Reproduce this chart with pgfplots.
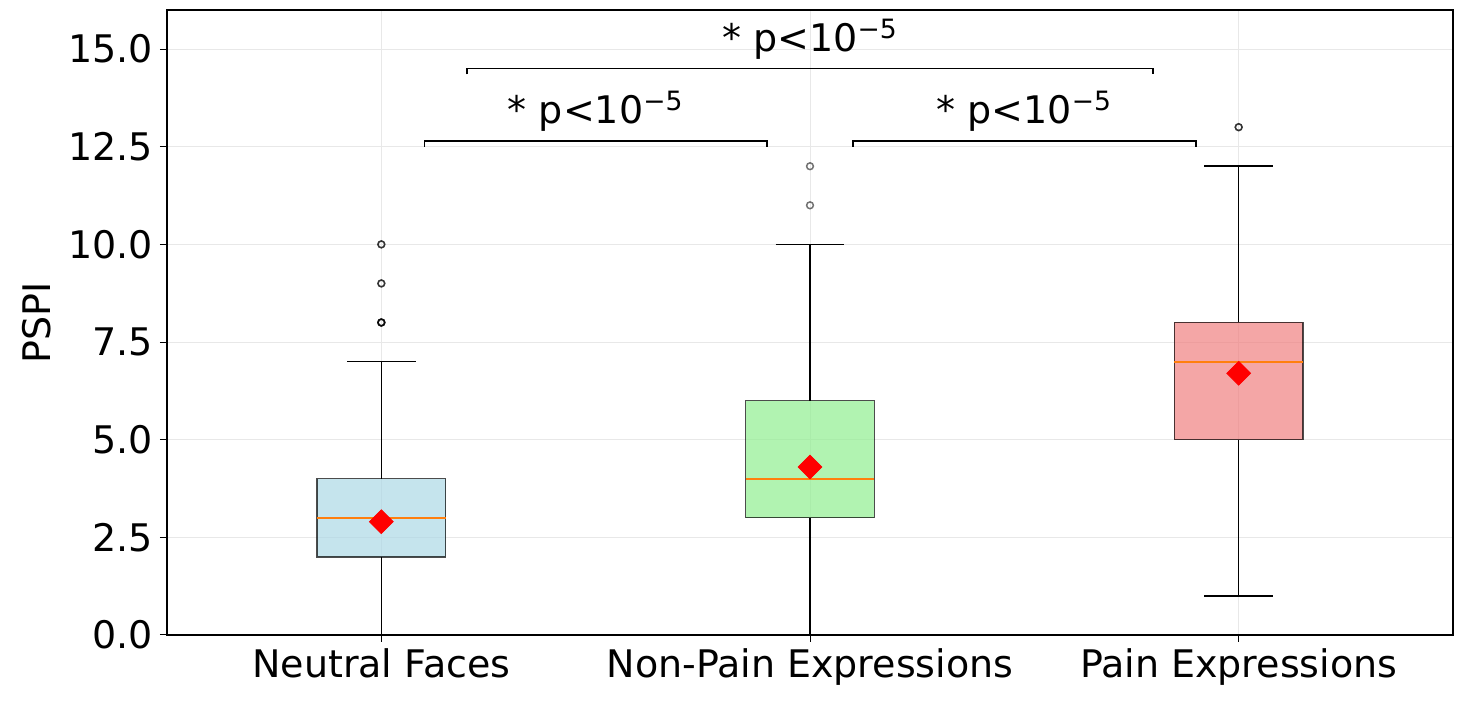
\documentclass[border=0pt]{standalone}
\usepackage{pgfplots}
\pgfplotsset{compat=1.18}
\usepgfplotslibrary{statistics}
\usepackage{fontspec}
\setmainfont{DejaVu Sans}
\definecolor{lblue}{RGB}{173,216,230}
\definecolor{lgreen}{RGB}{144,238,144}
\definecolor{lcoral}{RGB}{240,128,128}
\definecolor{mplorange}{RGB}{255,127,14}
\definecolor{gridc}{RGB}{232,232,232}
\newcommand{\pval}{* p<10\textsuperscript{\char"2212 5}}
\begin{document}
\begin{tikzpicture}
\begin{axis}[name=ax, scale only axis, width=643pt, height=312.5pt,
  xmin=0.5, xmax=3.5, ymin=0, ymax=16,
  xtick={1,2,3},
  xticklabels={Neutral Faces, Non-Pain Expressions, Pain Expressions},
  ytick={0,2.5,5,7.5,10,12.5,15},
  yticklabel style={/pgf/number format/.cd, fixed, fixed zerofill, precision=1},
  /pgf/number format/assume math mode=true,
  font=\fontsize{19}{23}\selectfont,
  tick label style={font=\fontsize{19}{23}\selectfont},
  ylabel={PSPI},
  ylabel style={at={(axis description cs:-0.101,0.5)}, anchor=center},
  grid=major, major grid style={gridc, line width=0.5pt},
  tick align=outside, major tick length=3.5pt, tick pos=left,
  axis line style={line width=0.6pt},
  every tick/.style={black, line width=0.5pt},
  boxplot/draw direction=y,
  boxplot/every whisker/.style={black, line width=0.75pt},
  boxplot/every median/.style={draw=none},
]
\addplot[boxplot prepared={lower whisker=0, lower quartile=2, median=3, upper quartile=4, upper whisker=7, draw position=1, box extend=0.3, whisker extend=0.16},
  boxplot/every box/.style={draw=black, draw opacity=0.7, fill=lblue, fill opacity=0.7, line width=0.65pt}] coordinates {};
\addplot[boxplot prepared={lower whisker=0, lower quartile=3, median=4, upper quartile=6, upper whisker=10, draw position=2, box extend=0.3, whisker extend=0.16},
  boxplot/every box/.style={draw=black, draw opacity=0.7, fill=lgreen, fill opacity=0.7, line width=0.65pt}] coordinates {};
\addplot[boxplot prepared={lower whisker=1, lower quartile=5, median=7, upper quartile=8, upper whisker=12, draw position=3, box extend=0.3, whisker extend=0.16},
  boxplot/every box/.style={draw=black, draw opacity=0.7, fill=lcoral, fill opacity=0.7, line width=0.65pt}] coordinates {};
% medians
\addplot[mplorange, line width=1pt, opacity=1] coordinates {(0.85,3) (1.15,3)};
\addplot[mplorange, line width=1pt, opacity=1] coordinates {(1.85,4) (2.15,4)};
\addplot[mplorange, line width=1pt, opacity=1] coordinates {(2.85,7) (3.15,7)};
% outliers (repeated values overlap and darken)
\addplot[only marks, mark=o, mark size=1.7pt, mark options={draw=black, draw opacity=0.55, line width=0.75pt}] coordinates {(1,8) (1,8) (1,8) (1,8) (1,9) (1,9) (1,10) (1,10) (2,11) (2,12) (3,13) (3,13)};
% means
\addplot[only marks, mark=square*, mark size=4.2pt, mark options={rotate=45, fill=red, draw=red}] coordinates {(1,2.9) (2,4.3) (3,6.7)};
% significance brackets
\draw[line width=0.7pt] (axis cs:1.1,12.5) -- (axis cs:1.1,12.65) -- (axis cs:1.9,12.65) -- (axis cs:1.9,12.5);
\node[anchor=base] at (axis cs:1.5,13.1) {\pval};
\draw[line width=0.7pt] (axis cs:2.1,12.5) -- (axis cs:2.1,12.65) -- (axis cs:2.9,12.65) -- (axis cs:2.9,12.5);
\node[anchor=base] at (axis cs:2.5,13.1) {\pval};
\draw[line width=0.7pt] (axis cs:1.2,14.35) -- (axis cs:1.2,14.5) -- (axis cs:2.8,14.5) -- (axis cs:2.8,14.35);
\node[anchor=base] at (axis cs:2,14.95) {\pval};
\end{axis}
\pgfresetboundingbox
\path[use as bounding box] ([shift={(-83.5pt,-40pt)}]ax.south west) rectangle ([shift={(9pt,5pt)}]ax.north east);
\end{tikzpicture}
\end{document}
